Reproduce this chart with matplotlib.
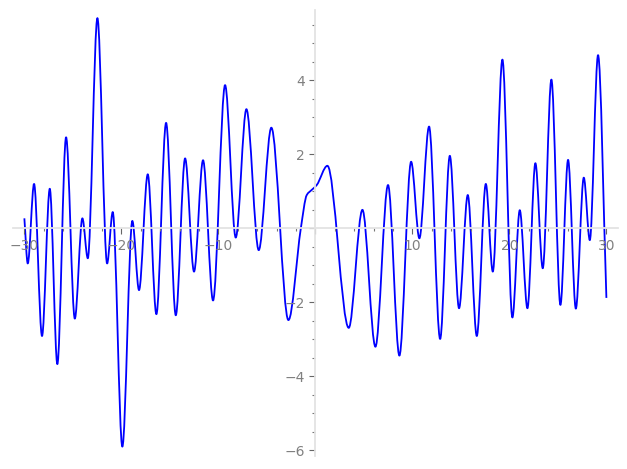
import matplotlib
matplotlib.use("Agg")
import matplotlib.pyplot as plt
from matplotlib.path import Path
from matplotlib.patches import PathPatch
from matplotlib.ticker import MultipleLocator, FuncFormatter

# Curve samples (turning points plus a few shape points)
xs = [-30.0, -29.65, -29.0, -28.18, -27.38, -26.6, -25.70, -24.80, -24.02, -23.46,
      -22.47, -21.47, -20.89, -19.90, -18.87, -18.18, -17.28, -16.39, -15.39, -14.39,
      -13.43, -12.51, -11.58, -10.55, -9.31, -8.21, -7.11, -5.84, -4.54, -2.78,
      -1.5, -0.89, -0.37, 0.14, 1.24, 3.44, 4.85, 6.19, 7.49, 8.66,
      9.87, 10.72, 11.72, 12.86, 13.86, 14.81, 15.71, 16.64, 17.57, 18.29,
      19.28, 20.31, 21.07, 21.86, 22.68, 23.44, 24.33, 25.26, 26.05, 26.85,
      27.67, 28.29, 29.14, 30.0]
ys = [0.27, -0.95, 1.20, -2.91, 1.07, -3.67, 2.46, -2.44, 0.27, -0.81,
      5.68, -0.95, 0.44, -5.90, 0.20, -1.67, 1.46, -2.32, 2.85, -2.35,
      1.89, -1.17, 1.84, -1.95, 3.87, -0.25, 3.22, -0.59, 2.72, -2.48,
      0.0, 0.90, 1.04, 1.17, 1.69, -2.69, 0.50, -3.20, 1.17, -3.44,
      1.80, -0.27, 2.75, -2.99, 1.96, -2.16, 0.90, -2.91, 1.20, -1.17,
      4.56, -2.41, 0.49, -2.16, 1.76, -1.08, 4.02, -2.07, 1.85, -2.17,
      1.37, -0.32, 4.68, -1.88]

x_limits = (-31.2, 31.2)
y_limits = (-6.15, 5.91)


def monotone_path(x, y):
    """Smooth monotone (d3 curveMonotoneX-style) Bezier path through the points."""
    n = len(x)
    d = [(y[i + 1] - y[i]) / (x[i + 1] - x[i]) for i in range(n - 1)]
    m = [0.0] * n
    m[0] = d[0]
    m[-1] = d[-1]
    for i in range(1, n - 1):
        if d[i - 1] * d[i] <= 0:
            m[i] = 0.0
        else:
            m[i] = 2.0 / (1.0 / d[i - 1] + 1.0 / d[i])
    verts = [(x[0], y[0])]
    codes = [Path.MOVETO]
    for i in range(n - 1):
        h = (x[i + 1] - x[i]) / 3.0
        verts += [(x[i] + h, y[i] + m[i] * h),
                  (x[i + 1] - h, y[i + 1] - m[i + 1] * h),
                  (x[i + 1], y[i + 1])]
        codes += [Path.CURVE4] * 3
    return Path(verts, codes)


fig = plt.figure(figsize=(6.27, 4.69), dpi=100)
ax = fig.add_axes([0.0203, 0.0279, 0.9654, 0.9516])

ax.add_patch(PathPatch(monotone_path(xs, ys), facecolor="none",
                       edgecolor="#0000ff", lw=1.3, joinstyle="round"))

ax.set_xlim(*x_limits)
ax.set_ylim(*y_limits)

for side in ("top", "right"):
    ax.spines[side].set_visible(False)
ax.spines["left"].set_position(("data", 0))
ax.spines["bottom"].set_position(("data", 0))
for side in ("left", "bottom"):
    ax.spines[side].set_color("#e3e3e3")
    ax.spines[side].set_linewidth(1.3)

ax.xaxis.set_major_locator(MultipleLocator(10))
ax.xaxis.set_minor_locator(MultipleLocator(2))
ax.yaxis.set_major_locator(MultipleLocator(2))
ax.yaxis.set_minor_locator(MultipleLocator(0.5))


def fmt(v, pos):
    if abs(v) < 1e-9:
        return ""
    return f"{v:g}".replace("-", "\u2212")


ax.xaxis.set_major_formatter(FuncFormatter(fmt))
ax.yaxis.set_major_formatter(FuncFormatter(fmt))
ax.tick_params(which="major", direction="out", length=4, width=0.8,
               color="#666666", labelcolor="#808080", labelsize=10)
ax.tick_params(which="minor", direction="out", length=2.5, width=0.8,
               color="#777777")
ax.set_facecolor("white")
ax.patch.set_alpha(0)

fig.savefig("out.png", dpi=100, facecolor="white")
